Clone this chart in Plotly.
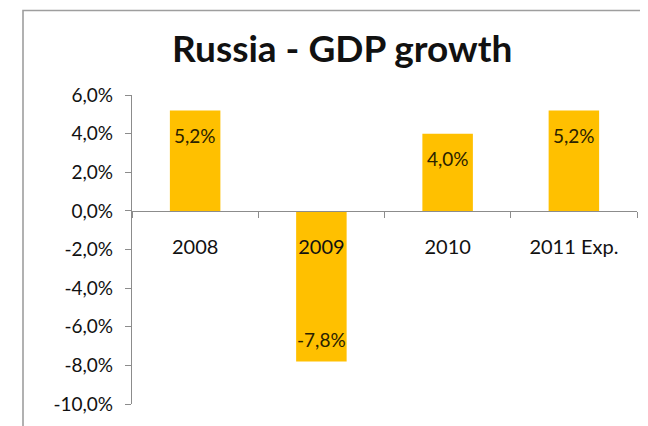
import plotly.graph_objects as go

categories = ["2008", "2009", "2010", "2011 Exp."]
growth = [5.2, -7.8, 4.0, 5.2]
bar_labels = ["5,2%", "-7,8%", "4,0%", "5,2%"]
y_tick_vals = [6, 4, 2, 0, -2, -4, -6, -8, -10]
y_tick_text = ["6,0%", "4,0%", "2,0%", "0,0%", "-2,0%", "-4,0%", "-6,0%", "-8,0%", "-10,0%"]
title_text = "Russia - GDP growth"

OFF = 8  # browser body margin
W, H = 648 - OFF, 426 - OFF
L, R, T, B = 132 - OFF, 11, 95 - OFF, 426 - 405 - OFF
pw, ph = W - L - R, H - T - B

def px_x(px):
    return (px - OFF - L) / pw

def px_y(py):
    return (H - B - (py - OFF)) / ph

ymin, ymax = -10, 6

fig = go.Figure()
fig.add_trace(go.Bar(
    x=categories, y=growth,
    marker=dict(color="#FFC000", line=dict(width=0)),
    hoverinfo="skip",
))

for i, (v, lab) in enumerate(zip(growth, bar_labels)):
    fig.add_annotation(
        x=i, y=v, xref="x", yref="y",
        text=lab,
        showarrow=False, yanchor="middle",
        yshift=-25 if v >= 0 else 22,
        font=dict(family="Lato", size=19, color="#2a2200"),
    )

fig.add_shape(type="rect", xref="paper", yref="paper",
              x0=px_x(23), x1=px_x(700), y0=px_y(470), y1=px_y(8),
              line=dict(color="#9e9e9e", width=1.6), fillcolor="rgba(0,0,0,0)",
              layer="below")

fig.add_annotation(
    xref="paper", yref="paper", x=px_x(342), y=px_y(46),
    text=f"<b>{title_text}</b>", showarrow=False,
    xanchor="center", yanchor="middle",
    font=dict(family="Lato", size=37, color="#111111"),
)

fig.update_layout(
    width=W, height=H,
    margin=dict(l=L, r=R, t=T, b=B, pad=0),
    paper_bgcolor="white", plot_bgcolor="white",
    bargap=0.6,
    showlegend=False,
    xaxis=dict(
        type="category",
        anchor="free", position=(0 - ymin) / (ymax - ymin),
        showline=True, linecolor="#8c8c8c", linewidth=1.2,
        ticks="outside", tickson="boundaries", ticklen=6, tickcolor="#8c8c8c",
        showgrid=False, zeroline=False,
        tickfont=dict(family="Lato", size=20, color="#111111"),
        ticklabelstandoff=18,
        range=[-0.5, 3.5],
    ),
    yaxis=dict(
        range=[ymin, ymax],
        tickmode="array", tickvals=y_tick_vals, ticktext=y_tick_text,
        showline=True, linecolor="#8c8c8c", linewidth=1.2,
        ticks="outside", ticklen=6, tickcolor="#8c8c8c",
        showgrid=False, zeroline=False,
        tickfont=dict(family="Lato", size=19, color="#111111"),
        ticklabelstandoff=8,
    ),
)

fig.write_html("out.html")
